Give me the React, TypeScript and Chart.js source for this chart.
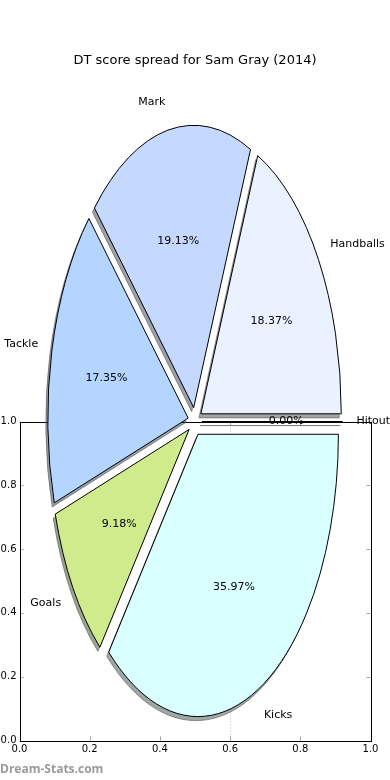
import React, { useEffect, useRef } from "react";
import { Chart, registerables } from "chart.js";

Chart.register(...registerables);

// ---- data ----
const categories = ["Handballs", "Mark", "Tackle", "Goals", "Kicks", "Hitout"];
const shares = [18.37, 19.13, 17.35, 9.18, 35.97, 0.0];
const sliceColors = ["#EBF2FF", "#C5D9FF", "#B3D5FF", "#CFEB8B", "#D9FFFF", "#FFFFFF"];
const explode = [0.05, 0.05, 0.05, 0.05, 0.05, 0.05];
const xTicks = [0, 0.2, 0.4, 0.6, 0.8, 1.0];
const yTicks = [0, 0.2, 0.4, 0.6, 0.8, 1.0];
const titleText = "DT score spread for Sam Gray (2014)";
const watermarkText = "Dream-Stats.com";

// ---- pie geometry (data units of the axes) ----
const PIE_CX = 0.5;
const PIE_CY = 1.0;
const PIE_RX = 0.4;
const PIE_RY = 0.885;
const SHADOW = 0.0145;
const LABEL_DIST = 1.1;
const PCT_DIST = 0.6;
const FONT = "'DejaVu Sans', sans-serif";

function hexToRgb(h: string) {
  const n = parseInt(h.slice(1), 16);
  return [(n >> 16) & 255, (n >> 8) & 255, n & 255];
}

const piePlugin = {
  id: "explodedPie",
  beforeDatasetsDraw(chart: any) {
    const { ctx, chartArea: a, scales } = chart;
    const x = scales.x;
    const y = scales.y;
    ctx.save();
    // dotted line at 0.6
    ctx.strokeStyle = "#c0c0c0";
    ctx.lineWidth = 1;
    ctx.setLineDash([1, 2]);
    const xp = Math.round(x.getPixelForValue(0.6)) + 0.5;
    ctx.beginPath();
    ctx.moveTo(xp, a.top);
    ctx.lineTo(xp, a.bottom);
    ctx.stroke();
    ctx.setLineDash([]);
    // inward tick marks
    ctx.strokeStyle = "#a0a0a0";
    ctx.beginPath();
    xTicks.forEach((t) => {
      const p = Math.round(x.getPixelForValue(t)) + 0.5;
      ctx.moveTo(p, a.bottom);
      ctx.lineTo(p, a.bottom - 4);
      ctx.moveTo(p, a.top);
      ctx.lineTo(p, a.top + 4);
    });
    yTicks.forEach((t) => {
      const p = Math.round(y.getPixelForValue(t)) + 0.5;
      ctx.moveTo(a.left, p);
      ctx.lineTo(a.left + 4, p);
      ctx.moveTo(a.right, p);
      ctx.lineTo(a.right - 4, p);
    });
    ctx.stroke();
    // frame
    ctx.strokeStyle = "#000";
    ctx.strokeRect(Math.round(a.left) + 0.5, Math.round(a.top) + 0.5, Math.round(a.right - a.left), Math.round(a.bottom - a.top));
    ctx.restore();
  },
  afterDatasetsDraw(chart: any) {
    const { ctx, scales } = chart;
    const x = scales.x;
    const y = scales.y;
    const total = Math.max(1, shares.reduce((s, v) => s + v, 0) / 100);
    const rxp = x.getPixelForValue(PIE_CX + PIE_RX) - x.getPixelForValue(PIE_CX);
    const ryp = y.getPixelForValue(PIE_CY) - y.getPixelForValue(PIE_CY + PIE_RY);
    let acc = 0;
    const wedges = shares.map((v, i) => {
      const t1 = (acc / 100 / total) * 2 * Math.PI;
      acc += v;
      const t2 = (acc / 100 / total) * 2 * Math.PI;
      const mid = (t1 + t2) / 2;
      const cxv = PIE_CX + explode[i] * PIE_RX * Math.cos(mid);
      const cyv = PIE_CY + explode[i] * PIE_RY * Math.sin(mid);
      return { i, t1, t2, mid, cxv, cyv };
    });
    const path = (cxv: number, cyv: number, t1: number, t2: number) => {
      const cx = x.getPixelForValue(cxv);
      const cy = y.getPixelForValue(cyv);
      ctx.beginPath();
      ctx.moveTo(cx, cy);
      if (t2 > t1) {
        ctx.ellipse(cx, cy, rxp, ryp, 0, -t1, -t2, true);
      } else {
        ctx.lineTo(cx + rxp * Math.cos(t1), cy - ryp * Math.sin(t1));
      }
      ctx.closePath();
    };
    ctx.save();
    ctx.lineJoin = "round";
    // shadows
    wedges.forEach((w) => {
      const [r, g, b] = hexToRgb(sliceColors[w.i]);
      const c = `rgba(${Math.round(r * 0.3)},${Math.round(g * 0.3)},${Math.round(b * 0.3)},0.5)`;
      path(w.cxv - SHADOW * PIE_RX, w.cyv - SHADOW * PIE_RY, w.t1, w.t2);
      ctx.fillStyle = c;
      ctx.strokeStyle = c;
      ctx.lineWidth = 1;
      if (w.t2 > w.t1) ctx.fill();
      ctx.stroke();
    });
    // wedges
    wedges.forEach((w) => {
      path(w.cxv, w.cyv, w.t1, w.t2);
      ctx.fillStyle = sliceColors[w.i];
      ctx.strokeStyle = "#000";
      ctx.lineWidth = 1;
      if (w.t2 > w.t1) ctx.fill();
      ctx.stroke();
    });
    // labels
    ctx.fillStyle = "#000";
    ctx.font = `11px ${FONT}`;
    ctx.textBaseline = "middle";
    wedges.forEach((w) => {
      const lx = w.cxv + LABEL_DIST * PIE_RX * Math.cos(w.mid);
      const ly = w.cyv + LABEL_DIST * PIE_RY * Math.sin(w.mid);
      ctx.textAlign = lx > w.cxv ? "left" : "right";
      ctx.fillText(categories[w.i], x.getPixelForValue(lx), y.getPixelForValue(ly));
      const px = w.cxv + PCT_DIST * PIE_RX * Math.cos(w.mid);
      const py = w.cyv + PCT_DIST * PIE_RY * Math.sin(w.mid);
      ctx.textAlign = "center";
      ctx.fillText(shares[w.i].toFixed(2) + "%", x.getPixelForValue(px), y.getPixelForValue(py));
    });
    ctx.restore();
  },
  afterDraw(chart: any) {
    const { ctx } = chart;
    ctx.save();
    ctx.font = "bold 12px 'Open Sans', sans-serif";
    ctx.fillStyle = "#9a9a9a";
    ctx.textAlign = "left";
    ctx.textBaseline = "middle";
    ctx.fillText(watermarkText, 0, 770);
    ctx.restore();
  },
};

export default function App() {
  const ref = useRef<HTMLCanvasElement | null>(null);
  useEffect(() => {
    document.body.style.margin = "0";
    const canvas = ref.current;
    if (!canvas) return;
    const chart = new Chart(canvas, {
      type: "scatter",
      data: { datasets: [{ data: [], pointRadius: 0 }] },
      options: {
        animation: false,
        responsive: false,
        events: [],
        layout: { padding: 0 },
        plugins: {
          legend: { display: false },
          tooltip: { enabled: false },
          title: {
            display: true,
            text: titleText,
            color: "#000",
            font: { family: FONT, size: 13, weight: "normal", lineHeight: 1.2 },
            padding: { top: 53.2, bottom: 352.7 },
          },
        },
        scales: {
          x: {
            type: "linear",
            min: 0,
            max: 1,
            afterFit: (s: any) => {
              s.height = 39.5;
            },
            afterBuildTicks: (s: any) => {
              s.ticks = xTicks.map((v) => ({ value: v }));
            },
            ticks: {
              color: "#000",
              font: { family: FONT, size: 10 },
              padding: 3,
              maxRotation: 0,
              autoSkip: false,
              callback: (v: any) => Number(v).toFixed(1),
            },
            grid: { display: false, drawTicks: false },
            border: { display: false },
          },
          y: {
            type: "linear",
            position: "left",
            min: 0,
            max: 1,
            afterFit: (s: any) => {
              s.width = 19.5;
            },
            afterBuildTicks: (s: any) => {
              s.ticks = yTicks.map((v) => ({ value: v }));
            },
            ticks: {
              color: "#000",
              font: { family: FONT, size: 10 },
              padding: 3,
              autoSkip: false,
              callback: (v: any) => Number(v).toFixed(1),
            },
            grid: { display: false, drawTicks: false },
            border: { display: false },
          },
          yRight: {
            type: "linear",
            position: "right",
            min: 0,
            max: 1,
            afterFit: (s: any) => {
              s.width = 19.5;
            },
            ticks: { display: false },
            grid: { display: false, drawTicks: false },
            border: { display: false },
          },
        },
      },
      plugins: [piePlugin],
    });
    return () => chart.destroy();
  }, []);
  return (
    <div style={{ width: 390, height: 780, background: "#fff" }}>
      <canvas ref={ref} width={390} height={780} style={{ display: "block" }} />
    </div>
  );
}
